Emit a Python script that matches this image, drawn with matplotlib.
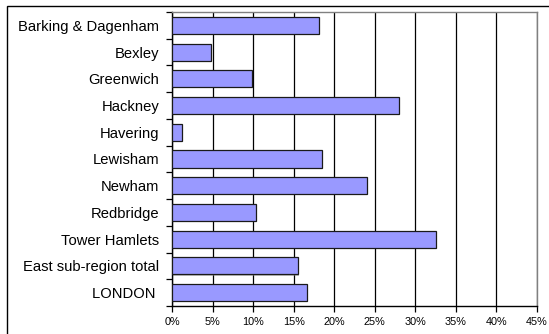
import matplotlib
matplotlib.use("Agg")
import matplotlib.pyplot as plt
from matplotlib.patches import Rectangle
import numpy as np

boroughs = ["Barking & Dagenham", "Bexley", "Greenwich", "Hackney", "Havering",
            "Lewisham", "Newham", "Redbridge", "Tower Hamlets",
            "East sub-region total", "LONDON "]
shares = [18.1, 4.8, 9.9, 28.0, 1.2, 18.5, 24.1, 10.4, 32.6, 15.5, 16.6]
x_ticks = [0, 5, 10, 15, 20, 25, 30, 35, 40, 45]

plt.rcParams['font.family'] = ['Liberation Sans', 'DejaVu Sans']

fig = plt.figure(figsize=(5.49, 3.34), dpi=100)
fig.patch.set_facecolor('white')

# outer chart frame
fig.patches.append(Rectangle((7 / 549, -0.1), 1.2, 1 - 6 / 334 + 0.1,
                             transform=fig.transFigure, fill=False,
                             edgecolor='black', linewidth=1.0))

ax = fig.add_axes([172 / 549, 1 - 306 / 334, (537 - 172) / 549, (306 - 12) / 334])

y = np.arange(len(boroughs))
# soft drop shadow behind bars
ax.barh(y + 0.04, shares, height=0.64, left=0.12, color='#808080', alpha=0.5,
        zorder=2, linewidth=0)
ax.barh(y, shares, height=0.64, color='#9999FF', edgecolor='#1a1a1a',
        linewidth=0.9, zorder=3)

ax.set_xlim(0, 45)
ax.set_ylim(len(boroughs) - 0.5, -0.5)

ax.set_xticks(x_ticks)
ax.set_xticklabels([f"{v}%" for v in x_ticks], fontsize=7.8)
ax.xaxis.grid(True, color='black', linewidth=0.9, zorder=1)
ax.set_axisbelow(True)

ax.set_yticks(y)
ax.set_yticklabels(boroughs, fontsize=10.6)
ax.set_yticks(np.arange(-0.5, len(boroughs), 1), minor=True)
ax.tick_params(axis='y', which='major', length=0, pad=9)
ax.tick_params(axis='y', which='minor', length=4, width=0.9, direction='out')
ax.tick_params(axis='x', length=4, width=0.9, direction='out', pad=4)

for side in ['top', 'right']:
    ax.spines[side].set_color('#808080')
    ax.spines[side].set_linewidth(1.0)
ax.spines['left'].set_linewidth(1.0)
ax.spines['bottom'].set_linewidth(1.0)

fig.savefig("out.png", dpi=100)
